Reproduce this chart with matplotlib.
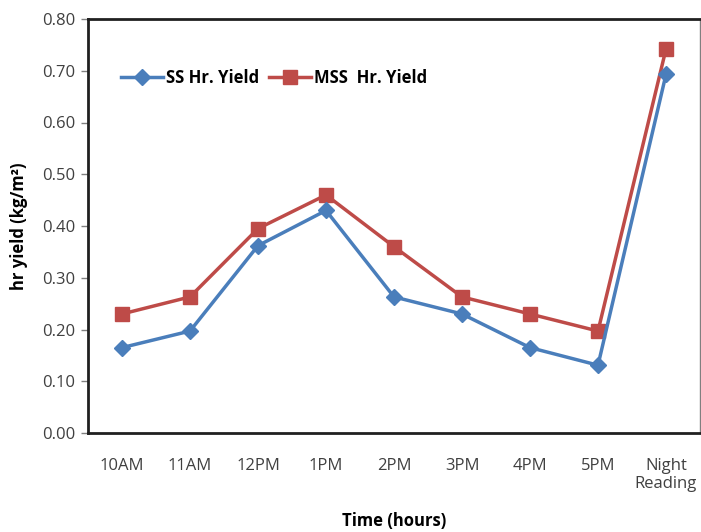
import matplotlib
matplotlib.use("Agg")
import matplotlib.pyplot as plt

categories = ["10AM", "11AM", "12PM", "1PM", "2PM", "3PM", "4PM", "5PM", "Night\nReading"]
ss_yield = [0.165, 0.197, 0.362, 0.430, 0.263, 0.230, 0.165, 0.131, 0.693]
mss_yield = [0.230, 0.263, 0.395, 0.460, 0.360, 0.263, 0.230, 0.197, 0.742]
y_ticks = [0.0, 0.1, 0.2, 0.3, 0.4, 0.5, 0.6, 0.7, 0.8]

plt.rcParams["font.family"] = ["Open Sans", "DejaVu Sans"]

fig = plt.figure(figsize=(7.01, 5.32), dpi=100)
ax = fig.add_axes([88 / 701, 1 - 433 / 532, 612 / 701, 414 / 532])

x = list(range(len(categories)))
ax.plot(x, ss_yield, color="#4a7ebb", lw=2.5, marker="D", ms=8,
        label="SS Hr. Yield", zorder=3)
ax.plot(x, mss_yield, color="#be4b48", lw=2.5, marker="s", ms=10,
        label="MSS  Hr. Yield", zorder=2)

ax.set_xlim(-0.5, len(categories) - 0.5)
ax.set_ylim(0, 0.8)
ax.set_yticks(y_ticks)
ax.set_yticklabels([f"{v:.2f}" for v in y_ticks])
ax.set_xticks(x)
ax.set_xticklabels(categories)

ax.tick_params(axis="y", direction="out", length=5, width=1, color="#808080",
               labelsize=12, labelcolor="#404040", pad=4)
ax.tick_params(axis="x", length=0, labelsize=12, labelcolor="#404040", pad=18)

for side in ["left", "bottom", "top"]:
    ax.spines[side].set_linewidth(2)
    ax.spines[side].set_color("#202020")
ax.spines["right"].set_linewidth(1)
ax.spines["right"].set_color("#808080")

ax.set_ylabel("hr yield (kg/m²)", fontsize=12, fontweight="bold", labelpad=10)
ax.set_xlabel("Time (hours)", fontsize=12, fontweight="bold", labelpad=14)

ax.legend(loc="upper left", bbox_to_anchor=(0.03, 0.915), ncol=2, frameon=False,
          handlelength=2.5, columnspacing=0.6, handletextpad=0.2,
          prop={"weight": "bold", "size": 12})

fig.savefig("out.png", dpi=100)
